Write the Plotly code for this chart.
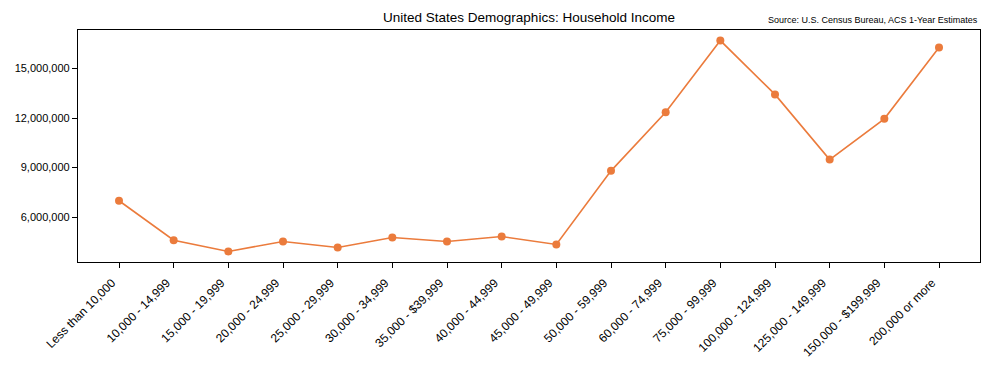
import plotly.graph_objects as go

categories = [
    "Less than 10,000", "10,000 - 14,999", "15,000 - 19,999", "20,000 - 24,999",
    "25,000 - 29,999", "30,000 - 34,999", "35,000 - $39,999", "40,000 - 44,999",
    "45,000 - 49,999", "50,000 - 59,999", "60,000 - 74,999", "75,000 - 99,999",
    "100,000 - 124,999", "125,000 - 149,999", "150,000 - $199,999", "200,000 or more",
]
households = [
    6990000, 4600000, 3920000, 4520000, 4160000, 4760000, 4520000, 4820000,
    4340000, 8800000, 12350000, 16690000, 13430000, 9480000, 11950000, 16270000,
]
y_ticks = [6000000, 9000000, 12000000, 15000000]

color = "#EB7B3C"
font = "Liberation Sans, Arial, sans-serif"

fig = go.Figure()
fig.add_trace(go.Scatter(
    x=list(range(len(categories))), y=households,
    mode="lines+markers",
    line=dict(color=color, width=1.6),
    marker=dict(color=color, size=8),
))

# the page body has an 8px margin, so the figure is sized to fit the window
fig.update_layout(
    width=982, height=361,
    margin=dict(l=70, r=10, t=22, b=107),
    paper_bgcolor="white", plot_bgcolor="white",
    font=dict(family=font, size=11, color="#000"),
    showlegend=False,
    title=dict(text="United States Demographics: Household Income",
               x=0.5, xref="paper", xanchor="center",
               y=1, yref="paper", yanchor="bottom", pad=dict(b=8),
               font=dict(family=font, size=13.5, color="#000")),
    annotations=[dict(text="Source: U.S. Census Bureau, ACS 1-Year Estimates",
                      x=1, xref="paper", xanchor="right",
                      y=1, yref="paper", yanchor="bottom", yshift=3,
                      showarrow=False, font=dict(family=font, size=9, color="#000"))],
)

fig.update_xaxes(
    range=[-0.75, 15.75], automargin=False,
    tickmode="array", tickvals=list(range(len(categories))), ticktext=categories,
    tickangle=-45, ticks="outside", ticklen=5, tickcolor="#000",
    ticklabelshift=-7, ticklabelstandoff=3,
    showline=True, linecolor="#000", linewidth=1.2, mirror=True,
    showgrid=False, zeroline=False,
    tickfont=dict(family=font, size=12, color="#000"),
)
fig.update_yaxes(
    range=[3280000, 17330000], automargin=False,
    tickmode="array", tickvals=y_ticks,
    ticktext=[f"{v:,}" for v in y_ticks],
    ticks="outside", ticklen=5, tickcolor="#000",
    showline=True, linecolor="#000", linewidth=1.2, mirror=True,
    showgrid=False, zeroline=False,
    tickfont=dict(family=font, size=11, color="#000"),
)

fig.write_html("out.html")
